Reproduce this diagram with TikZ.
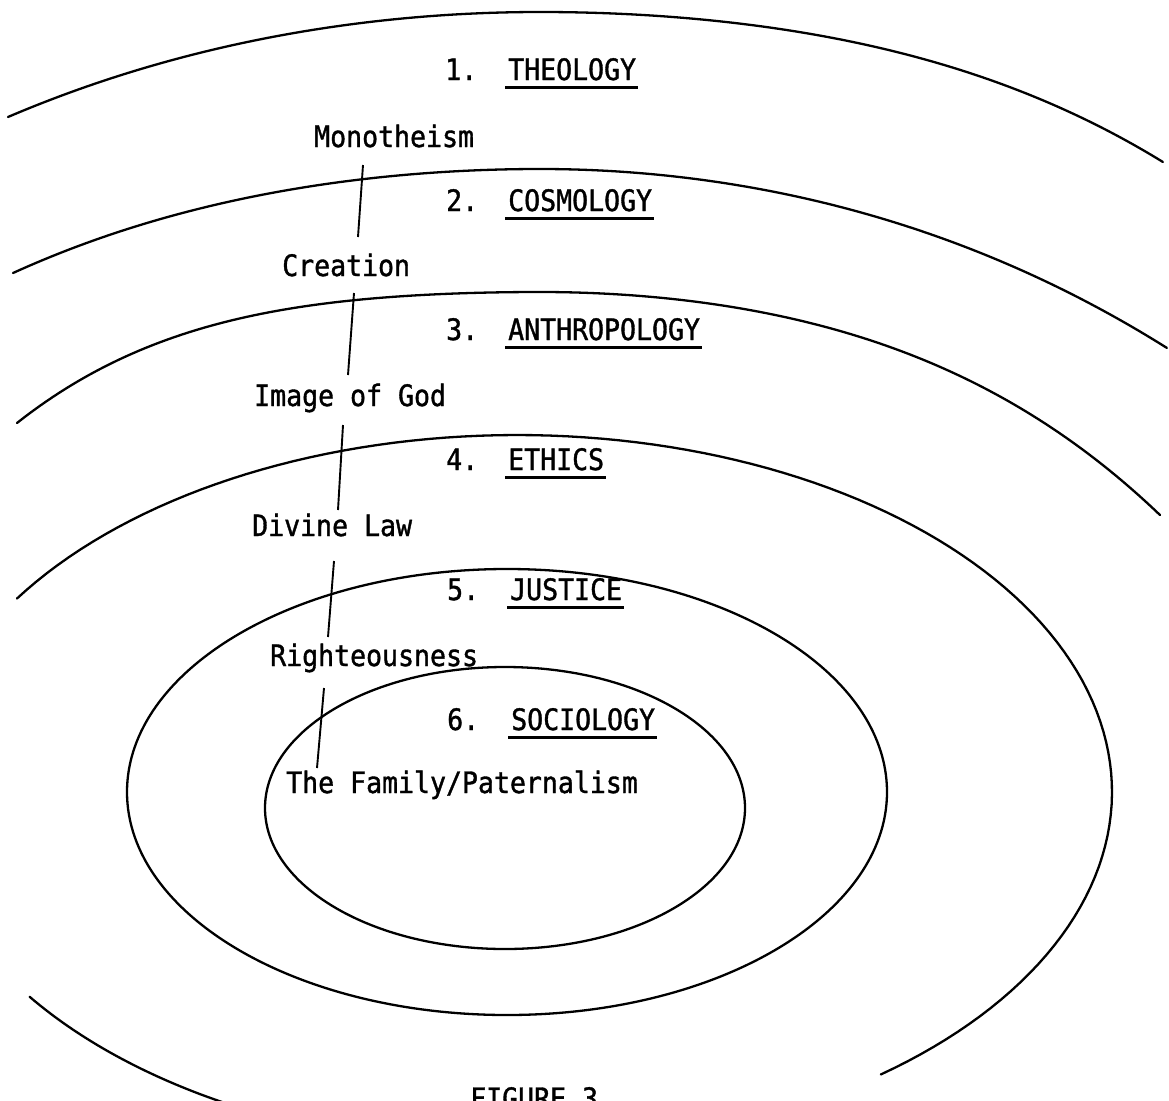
\documentclass[tikz,border=0pt]{standalone}
\usepackage{fontspec}
\newfontfamily\tw[FakeStretch=0.90,FakeBold=1.2]{DejaVu Sans Mono}
\begin{document}
\begin{tikzpicture}[x=1pt,y=-1pt,
  ring/.style={line width=2.3pt, line cap=round},
  link/.style={line width=1.9pt},
  uline/.style={line width=2.5pt},
  lbl/.style={inner sep=0pt, anchor=base west, font=\tw\fontsize{29.5}{32}\selectfont}]
\useasboundingbox (0,0) rectangle (1169,1100);
\fill[white] (0,0) rectangle (1169,1100);
\clip (0,0) rectangle (1169,1100);

% outer arcs (left and right halves meet at the crest)
\draw[ring] plot[domain=-5.32:6.23, samples=160, variable=\u]
  ({540+100*\u}, {12 + (\u<0 ? 3.411*\u*\u + 0.01055*(\u*\u)*(\u*\u) : 2.792*\u*\u + 0.02767*(\u*\u)*(\u*\u))});
\draw[ring] plot[domain=-5.27:6.27, samples=160, variable=\u]
  ({540+100*\u}, {169 + (\u<0 ? 3.182*\u*\u + 0.02027*(\u*\u)*(\u*\u) : 4.100*\u*\u + 0.01152*(\u*\u)*(\u*\u))});
\draw[ring] plot[domain=-5.23:6.20, samples=160, variable=\u]
  ({540+100*\u}, {292 + (\u<0 ? 2.021*\u*\u + 0.1012*(\u*\u)*(\u*\u) : 3.879*\u*\u + 0.05002*(\u*\u)*(\u*\u))});
% ethics ring (broken ellipse)
\draw[ring] plot[domain=212.8:412.3, samples=120, variable=\t] ({517+595*cos(\t)}, {792+357*sin(\t)});
\draw[ring] plot[domain=112:145, samples=40, variable=\t] ({517+595*cos(\t)}, {792+357*sin(\t)});
% justice and sociology
\draw[ring] (507,792) ellipse [x radius=380, y radius=223];
\draw[ring] (505,808) ellipse [x radius=240, y radius=141];

% headings
\node[lbl] (n1) at (445,80) {1.};
\node[lbl] (w1) at (508,80) {THEOLOGY};
\node[lbl] (n2) at (446,211) {2.};
\node[lbl] (w2) at (508,211) {COSMOLOGY};
\node[lbl] (n3) at (446,340) {3.};
\node[lbl] (w3) at (508,340) {ANTHROPOLOGY};
\node[lbl] (n4) at (446,470) {4.};
\node[lbl] (w4) at (508,470) {ETHICS};
\node[lbl] (n5) at (447,600) {5.};
\node[lbl] (w5) at (510,600) {JUSTICE};
\node[lbl] (n6) at (447,730) {6.};
\node[lbl] (w6) at (511,730) {SOCIOLOGY};
\foreach \w in {w1,w2,w3,w4,w5,w6}
  \draw[uline] ([xshift=-3pt,yshift=-7.5pt]\w.base west) -- ([xshift=2pt,yshift=-7.5pt]\w.base east);

% concepts
\node[lbl] (k1) at (314,147) {Monotheism};
\node[lbl] (k2) at (282,276) {Creation};
\node[lbl] (k3) at (254,406) {Image of God};
\node[lbl] (k4) at (252,536) {Divine Law};
\node[lbl] (k5) at (270,666) {Righteousness};
\node[lbl] (k6) at (286,793) {The Family/Paternalism};

% connectors
\coordinate (a1) at (363,165); \coordinate (b1) at (358,237);
\coordinate (a2) at (354,293); \coordinate (b2) at (348,375);
\coordinate (a3) at (343,425); \coordinate (b3) at (338,510);
\coordinate (a4) at (334,561); \coordinate (b4) at (328,637);
\coordinate (a5) at (324,688); \coordinate (b5) at (317,768);
\foreach \i in {1,...,5} \draw[link] (a\i) -- (b\i);

% caption (cut by the page edge, as in the original)
\node[lbl] (cap) at (470,1109) {FIGURE 3};
\end{tikzpicture}
\end{document}
